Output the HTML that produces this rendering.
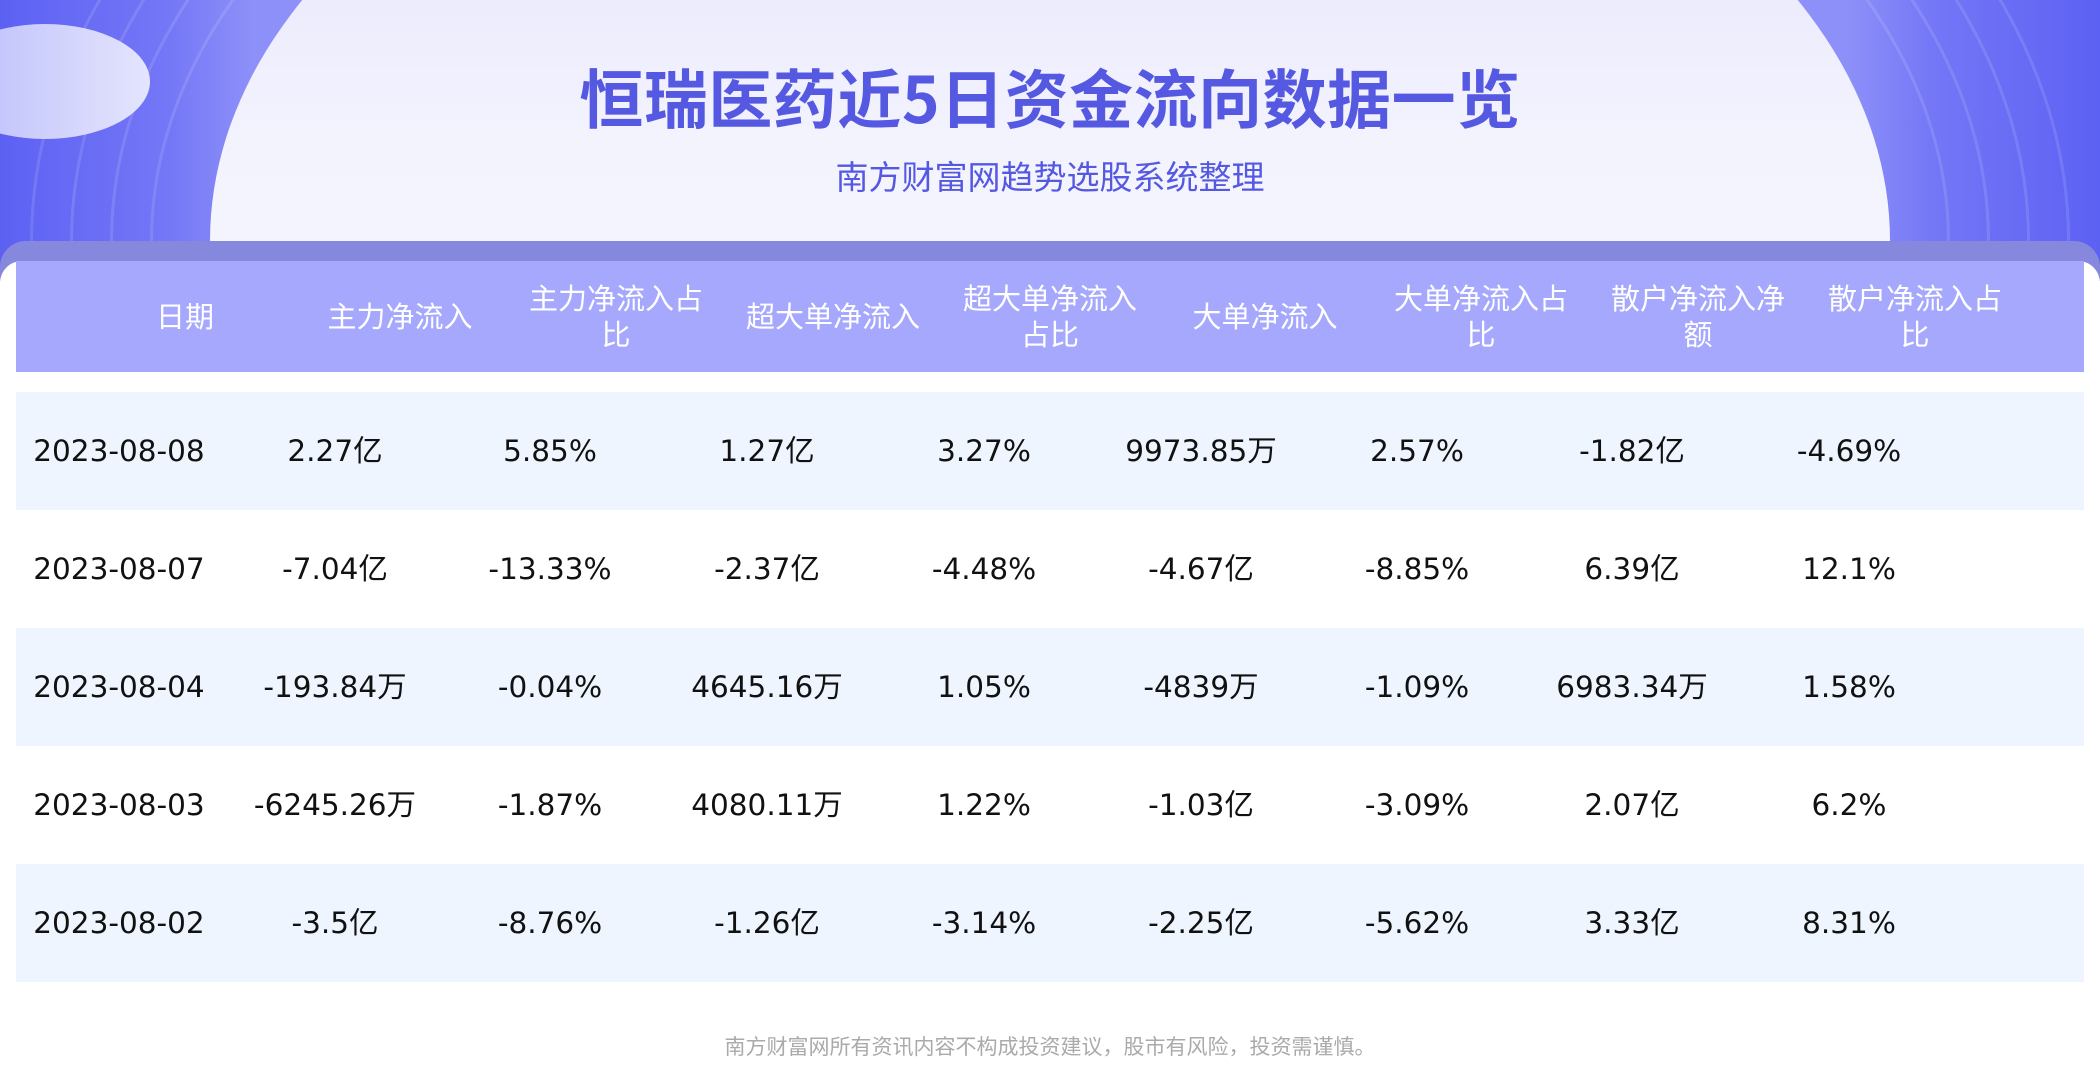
<!DOCTYPE html>
<html><head><meta charset="utf-8"><style>
*{margin:0;padding:0;box-sizing:border-box}
body{width:2100px;height:1089px;overflow:hidden;background:#fff;font-family:"DejaVu Sans","Noto Sans CJK SC",sans-serif;position:relative}
.bg{position:absolute;left:0;top:0;width:2100px;height:270px;background:linear-gradient(90deg,#5d61f3,#7477f6 8%,#8d90f8 12%,#8d90f8 88%,#7477f6 92%,#5d61f3);overflow:hidden}
.ring{position:absolute;border-radius:50%;border:3px solid rgba(255,255,255,0.12)}
.ell{position:absolute;left:210px;top:-288px;width:1680px;height:1058px;border-radius:50%;background:linear-gradient(180deg,#dcdcfb,#f3f3fe 40%,#fafaff)}
.sm{position:absolute;left:-60px;top:24px;width:210px;height:115px;border-radius:50%;background:linear-gradient(90deg,#b9bbfb,#e4e5fd)}
.band{position:absolute;left:0;top:241px;width:2100px;height:40px;background:#8688dd;border-radius:26px 26px 0 0}
.card{position:absolute;left:0;top:261px;width:2100px;height:828px;background:#fff;border-radius:22px 22px 0 0}
h1{position:absolute;left:0;width:2100px;top:58px;text-align:center;font-size:64px;font-weight:bold;color:#5558e0;line-height:76px;font-family:"Noto Sans CJK SC","DejaVu Sans",sans-serif;letter-spacing:0.5px}
h2{position:absolute;left:0;width:2100px;top:154px;text-align:center;font-size:33px;font-weight:normal;color:#5558e0;line-height:42px;font-family:"Noto Sans CJK SC",sans-serif}
.hdr{position:absolute;left:16px;top:261px;width:2068px;height:111px;background:#a5a8fd}
.hc{position:absolute;top:0;height:111px;width:216px;display:flex;align-items:center;justify-content:center;text-align:center;color:#fff;font-size:29px;line-height:36px}
.row{position:absolute;left:16px;width:2068px;height:118px}
.c{position:absolute;top:0;height:118px;line-height:118px;width:260px;text-align:center;font-size:29.5px;color:#111;margin-left:-130px}
.foot{position:absolute;left:0;width:2100px;top:1031px;text-align:center;color:#aaa;font-size:21px}
</style></head><body>
<div class="bg">
<div class="ring" style="left:150px;top:-340px;width:1800px;height:1162px"></div>
<div class="ring" style="left:110px;top:-370px;width:1880px;height:1222px"></div>
<div class="ring" style="left:70px;top:-400px;width:1960px;height:1282px"></div>
<div class="ring" style="left:30px;top:-430px;width:2040px;height:1342px"></div>
<div class="ell"></div><div class="sm"></div></div>
<h1>恒瑞医药近5日资金流向数据一览</h1>
<h2>南方财富网趋势选股系统整理</h2>
<div class="band"></div>
<div class="card"></div>
<div class="hdr">
<div class="hc" style="left:61px">日期</div>
<div class="hc" style="left:276px">主力净流入</div>
<div class="hc" style="left:492px">主力净流入占<br>比</div>
<div class="hc" style="left:709px">超大单净流入</div>
<div class="hc" style="left:926px">超大单净流入<br>占比</div>
<div class="hc" style="left:1141px">大单净流入</div>
<div class="hc" style="left:1357px">大单净流入占<br>比</div>
<div class="hc" style="left:1574px">散户净流入净<br>额</div>
<div class="hc" style="left:1791px">散户净流入占<br>比</div>
</div>
<div class="row" style="top:392px;background:#eef5fe"><div class="c" style="left:103px">2023-08-08</div><div class="c" style="left:319px">2.27亿</div><div class="c" style="left:534px">5.85%</div><div class="c" style="left:751px">1.27亿</div><div class="c" style="left:968px">3.27%</div><div class="c" style="left:1185px">9973.85万</div><div class="c" style="left:1401px">2.57%</div><div class="c" style="left:1616px">-1.82亿</div><div class="c" style="left:1833px">-4.69%</div></div>
<div class="row" style="top:510px;background:#fff"><div class="c" style="left:103px">2023-08-07</div><div class="c" style="left:319px">-7.04亿</div><div class="c" style="left:534px">-13.33%</div><div class="c" style="left:751px">-2.37亿</div><div class="c" style="left:968px">-4.48%</div><div class="c" style="left:1185px">-4.67亿</div><div class="c" style="left:1401px">-8.85%</div><div class="c" style="left:1616px">6.39亿</div><div class="c" style="left:1833px">12.1%</div></div>
<div class="row" style="top:628px;background:#eef5fe"><div class="c" style="left:103px">2023-08-04</div><div class="c" style="left:319px">-193.84万</div><div class="c" style="left:534px">-0.04%</div><div class="c" style="left:751px">4645.16万</div><div class="c" style="left:968px">1.05%</div><div class="c" style="left:1185px">-4839万</div><div class="c" style="left:1401px">-1.09%</div><div class="c" style="left:1616px">6983.34万</div><div class="c" style="left:1833px">1.58%</div></div>
<div class="row" style="top:746px;background:#fff"><div class="c" style="left:103px">2023-08-03</div><div class="c" style="left:319px">-6245.26万</div><div class="c" style="left:534px">-1.87%</div><div class="c" style="left:751px">4080.11万</div><div class="c" style="left:968px">1.22%</div><div class="c" style="left:1185px">-1.03亿</div><div class="c" style="left:1401px">-3.09%</div><div class="c" style="left:1616px">2.07亿</div><div class="c" style="left:1833px">6.2%</div></div>
<div class="row" style="top:864px;background:#eef5fe"><div class="c" style="left:103px">2023-08-02</div><div class="c" style="left:319px">-3.5亿</div><div class="c" style="left:534px">-8.76%</div><div class="c" style="left:751px">-1.26亿</div><div class="c" style="left:968px">-3.14%</div><div class="c" style="left:1185px">-2.25亿</div><div class="c" style="left:1401px">-5.62%</div><div class="c" style="left:1616px">3.33亿</div><div class="c" style="left:1833px">8.31%</div></div>
<div class="foot">南方财富网所有资讯内容不构成投资建议，股市有风险，投资需谨慎。</div>
</body></html>
